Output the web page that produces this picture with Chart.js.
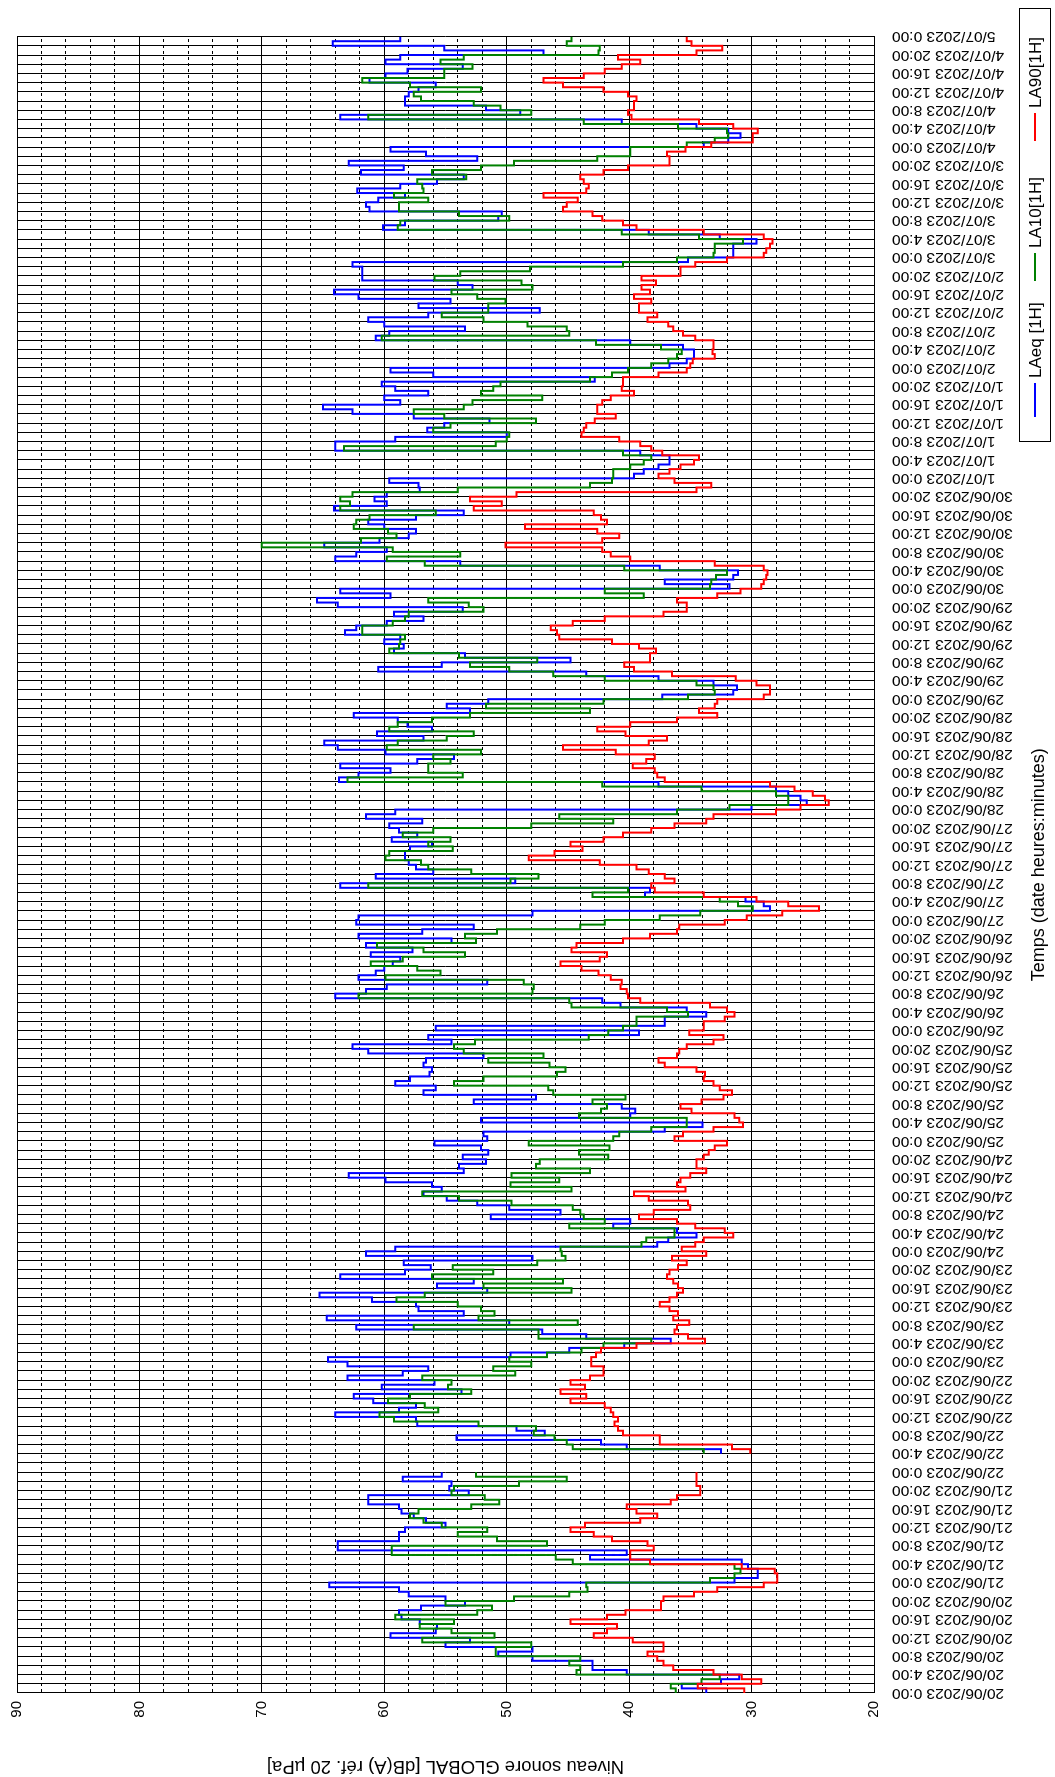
<!DOCTYPE html>
<html><head><meta charset="utf-8">
<script src="https://cdn.jsdelivr.net/npm/chart.js@4/dist/chart.umd.min.js"></script>
<style>
html,body{margin:0;padding:0;background:#fff;width:1055px;height:1777px;overflow:hidden;}
#wrap{position:absolute;left:0;top:0;width:1777px;height:1055px;transform-origin:0 0;transform:translateY(1777px) rotate(-90deg);}
</style></head><body>
<div id="wrap"><canvas id="c" width="1777" height="1055"></canvas></div>
<script>
// Time axis labels (every 4 hours)
const dayLabels = ['20/06/2023','21/06/2023','22/06/2023','23/06/2023','24/06/2023','25/06/2023','26/06/2023','27/06/2023','28/06/2023','29/06/2023','30/06/2023','1/07/2023','2/07/2023','3/07/2023','4/07/2023','5/07/2023'];
const hourLabels = ['0:00','4:00','8:00','12:00','16:00','20:00'];
const valueTickLabels = [20,30,40,50,60,70,80,90];
const seriesNames = ['LAeq [1H]','LA10[1H]','LA90[1H]'];

// Hourly values, hour 0 = 20/06/2023 0:00 ... hour 359 = 4/07/2023 23:00 (null = no data)
const laeq = [
33.7,35.7,32.5,31.0,40.2,43.0,43.0,47.9,50.7,47.9,55.0,53.0,59.5,55.8,55.7,57.1,58.6,58.8,57.0,53.4,55.0,58.0,58.8,64.5,
31.4,29.5,29.5,30.3,30.8,43.2,40.2,63.8,63.8,58.8,58.8,58.3,55.0,56.6,57.6,58.6,58.8,61.3,61.3,53.1,54.7,54.5,58.5,55.3,
null,null,null,null,
32.5,40.2,42.3,54.1,46.9,49.2,57.3,57.4,64.0,58.8,57.4,60.9,62.5,53.7,60.2,55.9,63.0,58.5,56.4,63.0,64.6,49.7,44.9,40.4,36.6,43.5,47.1,62.3,49.8,64.7,53.5,57.2,
57.4,61.0,65.3,51.6,55.7,52.7,63.6,58.3,56.2,58.4,47.9,61.5,59.1,
37.7,36.8,34.5,36.1,41.3,39.9,51.3,45.6,49.8,52.4,54.9,56.8,55.3,56.1,59.9,62.9,53.5,
53.9,51.7,53.6,51.5,52.1,55.9,51.6,51.9,37.1,34.0,52.1,39.9,39.5,40.6,52.7,47.6,56.8,55.8,59.1,57.9,56.3,56.1,56.8,56.6,51.9,61.3,62.6,54.5,56.4,39.2,55.8,
37.1,37.1,33.7,35.3,40.7,42.2,64.0,61.5,59.8,51.6,62.1,60.7,60.0,59.3,58.7,61.1,57.7,61.5,54.5,62.1,56.9,52.7,62.3,62.1,47.9,28.5,29.0,30.5,38.7,38.3,63.6,
49.3,60.7,56.0,57.4,58.0,58.3,58.3,57.9,56.1,59.4,57.3,58.8,59.6,56.9,61.5,59.1,30.0,25.5,26.0,27.0,28.0,37.6,63.7,62.1,59.5,63.6,57.3,54.3,59.9,63.8,64.9,
56.8,60.6,56.1,58.1,58.9,62.5,53.0,54.9,51.5,37.3,31.5,31.2,33.1,37.6,43.5,60.5,55.3,44.8,53.4,59.2,58.4,60.0,58.7,63.2,62.3,59.8,56.8,59.2,53.6,63.8,65.5,
59.5,63.6,31.8,37.1,31.5,31.1,37.5,53.8,64.0,62.3,59.8,64.9,60.4,58.0,57.4,60.0,61.3,57.4,53.5,64.1,59.8,60.8,59.8,57.1,57.2,59.6,39.6,38.8,37.6,36.7,36.7,39.1,
64.0,64.0,59.1,50.0,56.5,55.1,51.4,57.6,62.6,65.0,58.7,60.0,56.4,59.1,60.2,42.8,56.0,59.5,36.7,35.3,34.7,34.7,35.6,39.9,60.7,59.6,53.4,60.0,61.3,56.4,
47.3,57.2,54.6,62.1,64.1,52.8,54.0,61.8,61.8,61.8,62.6,35.2,31.5,31.5,31.5,29.6,32.6,38.4,60.1,58.3,50.7,50.4,61.2,61.5,60.5,58.3,62.2,58.7,55.7,53.5,61.9,
58.4,62.9,52.4,56.6,59.5,33.9,31.9,30.9,31.9,34.5,40.6,63.6,48.9,51.7,58.3,58.3,58.0,57.2,55.8,61.2,59.9,58.1,53.6,59.9,58.7,47.0,55.1,64.2,58.7
];
const la10 = [
36.2,36.6,34.1,32.6,44.3,44.0,44.9,44.0,50.9,50.9,48.0,56.9,51.0,54.5,57.1,54.3,59.1,52.4,51.2,55.0,49.4,44.9,43.4,43.5,
33.4,31.4,30.9,31.4,44.6,46.0,59.4,59.4,46.7,50.8,54.0,51.6,55.3,56.8,57.9,57.2,52.9,50.6,51.8,54.5,54.3,49.0,45.1,52.5,
null,null,null,null,
33.9,44.6,45.1,46.1,47.8,47.6,52.3,59.2,60.4,55.6,56.7,59.7,57.9,52.9,54.8,54.5,56.9,49.3,51.1,48.0,49.8,46.7,43.9,42.1,38.2,47.4,47.4,57.6,44.2,52.3,51.0,52.1,
54.0,59.0,56.7,44.7,51.9,45.4,56.1,51.1,54.4,47.5,45.2,45.5,45.6,
39.0,38.6,36.3,36.3,44.9,42.0,43.7,44.0,44.6,49.6,53.9,56.9,44.7,49.7,45.7,49.6,43.2,
47.6,47.3,41.7,44.1,41.6,48.2,41.3,40.8,38.2,35.3,35.3,44.1,42.3,41.8,43.0,40.3,46.2,46.6,54.3,51.9,45.9,45.2,46.5,51.5,47.0,53.5,54.3,52.6,43.3,41.7,40.5,
39.4,39.4,35.2,36.9,44.7,44.9,62.1,47.9,47.8,48.6,59.9,55.4,57.3,61.1,58.5,53.4,56.8,60.6,52.5,53.4,50.8,44.0,42.0,37.5,34.2,29.9,31.1,32.6,43.0,40.1,61.3,
49.7,47.4,52.9,56.4,57.0,59.9,59.6,54.4,56.4,54.6,58.5,56.0,48.0,41.3,45.7,36.1,31.8,27.0,27.0,28.0,34.1,42.2,63.0,53.6,56.4,56.4,54.6,56.0,52.1,59.8,58.9,
54.9,52.7,59.6,58.9,56.1,53.0,43.2,51.7,42.1,35.2,33.0,33.1,34.5,42.0,46.2,49.8,53.0,47.5,53.9,59.6,58.8,58.7,58.3,61.8,61.8,59.3,58.3,58.0,51.9,53.1,56.4,
38.8,42.0,33.4,33.3,32.9,32.0,40.4,56.7,59.8,53.8,59.3,70.0,61.9,59.0,59.7,62.5,62.3,61.2,55.8,63.6,62.8,63.6,62.6,54.0,43.2,41.4,41.3,41.3,39.9,38.8,38.2,40.5,
63.3,50.9,50.0,49.8,56.0,54.6,47.6,55.1,57.6,53.5,52.8,47.1,52.1,51.1,50.5,43.2,41.4,40.1,38.2,36.8,36.1,35.7,37.4,42.7,60.2,44.9,45.1,48.3,51.9,55.3,
51.5,51.5,50.1,52.4,54.5,47.9,48.8,55.9,53.8,48.1,40.5,36.1,33.1,33.0,33.0,30.7,34.3,40.6,58.9,58.7,49.8,53.9,58.8,58.8,56.4,59.2,56.8,56.9,57.3,53.3,56.1,
52.1,49.4,42.6,39.9,39.9,35.3,33.0,31.9,32.0,36.0,43.7,61.3,48.0,50.5,52.7,57.0,57.6,52.1,57.9,61.8,55.1,55.1,52.8,55.4,53.5,42.5,42.4,45.1,44.7
];
const la90 = [
30.6,34.4,29.2,30.8,33.1,36.4,37.2,37.7,38.5,37.2,37.2,39.7,42.9,41.8,41.0,44.8,41.8,40.3,37.4,37.4,37.2,34.7,32.8,29.0,
27.9,27.9,28.1,30.8,38.3,39.9,39.9,38.0,38.5,41.4,42.9,44.8,43.6,39.1,37.7,39.4,40.2,36.6,36.1,34.2,34.2,34.5,34.5,34.5,
null,null,null,null,
30.1,31.6,37.5,37.5,40.5,40.9,41.2,40.9,41.3,41.5,42.0,44.8,43.5,45.6,43.6,44.8,43.2,42.1,42.1,43.1,43.1,42.7,42.3,39.4,33.8,35.2,36.3,36.1,35.1,36.4,36.0,36.7,
37.5,36.7,36.1,35.6,36.0,36.4,36.9,36.7,36.0,35.3,36.5,33.7,35.7,
34.6,33.9,31.5,32.2,34.6,36.1,39.2,38.0,35.0,35.2,38.4,39.6,35.4,36.1,35.8,35.0,33.7,
34.5,34.5,33.9,33.5,33.0,32.0,36.3,35.6,33.1,30.7,31.0,31.4,34.9,35.8,34.1,32.3,31.6,32.6,33.1,33.9,33.8,34.5,37.1,37.6,36.1,35.9,35.3,33.1,32.3,35.1,33.9,
33.9,32.2,31.4,32.0,33.4,39.1,40.1,40.2,40.7,40.6,41.5,42.5,43.9,45.6,42.4,41.8,44.7,44.3,40.5,38.3,36.1,35.9,32.2,30.4,27.5,24.5,27.0,29.6,33.9,37.9,38.2,
36.3,37.1,38.4,39.4,42.4,48.2,46.1,43.8,44.8,42.1,40.5,38.2,36.3,33.7,33.1,28.0,26.0,23.7,24.0,25.0,26.5,28.5,37.1,37.7,37.9,39.7,38.6,37.9,41.1,45.4,38.4,
36.9,40.3,42.6,39.9,36.1,32.8,34.3,33.0,32.8,29.0,28.5,28.5,29.6,31.3,36.5,39.6,40.4,38.3,38.3,37.8,39.2,41.4,45.7,45.9,46.4,44.6,42.0,37.2,35.3,35.3,36.1,
32.8,30.9,29.2,29.0,28.8,28.7,29.0,33.0,39.9,41.5,42.2,50.1,42.2,40.8,42.6,48.5,41.8,42.3,42.9,52.7,50.4,53.0,49.2,34.5,33.3,36.3,37.6,36.7,35.8,34.7,34.3,37.3,
38.2,39.1,40.8,43.9,43.7,43.5,42.8,41.1,42.6,42.6,42.2,41.5,39.6,40.6,40.5,40.5,37.6,35.3,35.0,34.8,33.0,33.2,33.1,33.1,34.6,35.6,36.4,36.8,38.5,37.7,
39.2,39.2,38.2,39.6,38.3,39.0,37.8,39.0,35.8,35.8,34.6,32.0,29.0,28.8,28.5,28.3,29.0,33.9,39.4,40.5,42.2,43.0,45.4,45.1,44.2,47.0,43.5,43.3,43.7,44.0,42.1,
40.1,36.7,36.7,36.9,35.4,33.3,29.9,29.9,29.5,31.5,34.3,39.8,40.1,39.6,39.6,39.4,40.1,42.1,45.4,47.0,43.7,42.0,40.6,39.1,40.9,34.5,32.4,34.9,35.3
];
const seriesValues = [laeq, la10, la90];
const seriesColors = ['#0000ff', '#008000', '#ff0000'];

// Hourly values held over [h, h+1] -> step points
function stepPoints(arr) {
  const pts = [];
  for (let t = 0; t < arr.length; t++) {
    const v = arr[t];
    if (v === null) continue;
    pts.push({x: t, y: v});
    const last = t === arr.length - 1;
    const nx = last ? null : arr[t + 1];
    if (last || nx === null) {
      pts.push({x: t + 1, y: v});
      if (!last) pts.push({x: t + 1.0001, y: null});
    }
  }
  return pts;
}

function timeLabel(h) {
  return dayLabels[Math.floor(h / 24)] + ' ' + hourLabels[(h % 24) / 4];
}

const FONT = "'Liberation Sans', Arial, Helvetica, sans-serif";

const legendPlugin = {
  id: 'boxLegend',
  afterDraw(chart) {
    const ctx = chart.ctx;
    ctx.save();
    const x0 = 1335, y0 = 1019, w = 433, h = 31;
    ctx.fillStyle = '#fff';
    ctx.fillRect(x0, y0, w, h);
    ctx.strokeStyle = '#000';
    ctx.lineWidth = 1;
    ctx.strokeRect(x0 + 0.5, y0 + 0.5, w, h);
    const items = [
      {sx: 1360, ex: 1394, tx: 1399},
      {sx: 1496, ex: 1524, tx: 1529},
      {sx: 1636, ex: 1664, tx: 1669}
    ];
    const cy = y0 + h / 2 + 0.5;
    ctx.font = '17px ' + FONT;
    ctx.textBaseline = 'middle';
    ctx.textAlign = 'left';
    items.forEach((it, i) => {
      ctx.strokeStyle = seriesColors[i];
      ctx.lineWidth = 2;
      ctx.beginPath();
      ctx.moveTo(it.sx, cy);
      ctx.lineTo(it.ex, cy);
      ctx.stroke();
      ctx.fillStyle = '#000';
      ctx.fillText(seriesNames[i], it.tx, cy + 1);
    });
    ctx.restore();
  }
};

const datasets = seriesValues.map((arr, i) => ({
  label: seriesNames[i],
  data: stepPoints(arr),
  borderColor: seriesColors[i],
  backgroundColor: seriesColors[i],
  borderWidth: 2,
  pointRadius: 0,
  stepped: true,
  spanGaps: false,
  fill: false,
  order: 3 - i
}));

new Chart(document.getElementById('c'), {
  type: 'line',
  data: {datasets},
  options: {
    responsive: false,
    animation: false,
    devicePixelRatio: 1,
    layout: {padding: {left: 0, right: 13, top: 15, bottom: 0}},
    plugins: {legend: {display: false}, tooltip: {enabled: false}},
    scales: {
      x: {
        type: 'linear',
        position: 'bottom',
        min: 0,
        max: 360,
        afterBuildTicks: (s) => { const tk = []; for (let v = 0; v <= 360; v += 2) tk.push({value: v}); s.ticks = tk; },
        afterFit: (s) => { s.height = 181; },
        ticks: {
          autoSkip: false,
          minRotation: 90,
          maxRotation: 90,
          padding: 18,
          color: '#000',
          font: {family: FONT, size: 15.5},
          callback: (v) => (v % 4 === 0) ? timeLabel(v) : ''
        },
        grid: {color: '#000', lineWidth: 1, drawTicks: false},
        border: {color: '#000', width: 1},
        title: {display: true, text: 'Temps (date heures:minutes)', color: '#000', font: {family: FONT, size: 18}, padding: {top: 4, bottom: 5}}
      },
      y: {
        type: 'linear',
        min: 20,
        max: 90,
        afterBuildTicks: (s) => { const tk = []; for (let v = 20; v <= 90; v += 2) tk.push({value: v}); s.ticks = tk; },
        afterFit: (s) => { s.width = 84; },
        ticks: {
          autoSkip: false,
          padding: 8,
          color: '#000',
          font: {family: FONT, size: 15},
          callback: (v) => valueTickLabels.includes(v) ? String(v) : ''
        },
        grid: {color: '#000', lineWidth: 1, drawTicks: false},
        border: {
          color: '#000', width: 1,
          dash: (c) => (c && c.tick && c.tick.value % 10 !== 0) ? [3, 3] : []
        },
        title: {display: true, text: 'Niveau sonore GLOBAL [dB(A) réf. 20 µPa]', color: '#000', font: {family: FONT, size: 18.5}, padding: {top: 0, bottom: 4}}
      }
    }
  },
  plugins: [legendPlugin]
});
</script>
</body></html>
